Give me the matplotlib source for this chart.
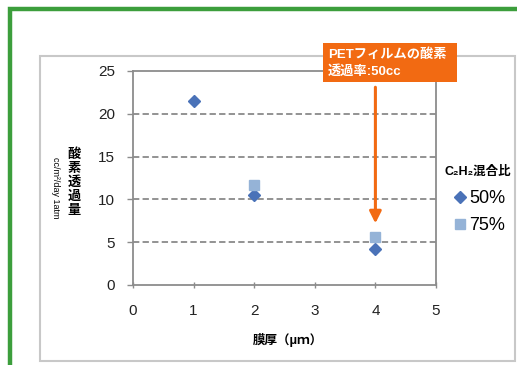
import matplotlib.pyplot as plt
from matplotlib.patches import Rectangle
from matplotlib.lines import Line2D

plt.rcParams['font.family'] = ['Liberation Sans', 'DejaVu Sans', 'Noto Sans CJK JP']

# oxygen permeability vs film thickness
x_50 = [1, 2, 4]
y_50 = [21.5, 10.5, 4.2]
x_75 = [2, 4]
y_75 = [11.7, 5.6]

x_ticks = [0, 1, 2, 3, 4, 5]
y_ticks = [0, 5, 10, 15, 20, 25]
grid_levels = [5, 10, 15, 20]

pet_x = 4
arrow_top = 23.1
arrow_tip = 7.2

W, H = 517, 365
orange = '#F26A12'
axis_gray = '#8C8C8C'

fig = plt.figure(figsize=(W / 100, H / 100), dpi=100)

# outer green frame and gray chart box
fig.patches.append(Rectangle((10 / W, -0.1), 1.2, 1.1 - 9 / H, transform=fig.transFigure,
                             fill=False, ec='#3C9E3C', lw=3.2))
fig.patches.append(Rectangle((40 / W, 1 - 361 / H), (515 - 40) / W, (361 - 56) / H,
                             transform=fig.transFigure, fill=False, ec='#C8C8C8', lw=1.5))

ax = fig.add_axes([133 / W, 80 / H, (436 - 133) / W, 214 / H])
ax.set_xlim(0, 5)
ax.set_ylim(0, 25)
ax.set_xticks(x_ticks)
ax.set_yticks(y_ticks)

for level in grid_levels:
    ax.axhline(level, color='#8A8A8A', lw=1.3, ls=(0, (3.5, 1.8)), zorder=1)

for s in ax.spines.values():
    s.set_color(axis_gray)
    s.set_linewidth(1.3)

ax.tick_params(axis='y', direction='out', length=4, width=1, color=axis_gray,
               labelsize=11, pad=9, labelcolor='#222222')
ax.tick_params(axis='x', direction='inout', length=5, width=1, color=axis_gray,
               labelsize=11, pad=11, labelcolor='#222222')

ax.plot(x_50, y_50, 'D', color='#4A72B8', ms=6.3, zorder=3, label='50%')
ax.plot(x_75, y_75, 's', color='#95B3D7', ms=7.5, zorder=3, label='75%')

# PET reference arrow
ax.annotate('', xy=(pet_x, arrow_tip), xytext=(pet_x, arrow_top),
            arrowprops=dict(arrowstyle='-|>,head_width=0.35,head_length=0.7',
                            color=orange, lw=2.2, shrinkA=0, shrinkB=0),
            zorder=4, annotation_clip=False)

fig.patches.append(Rectangle((323 / W, 1 - 82 / H), 134 / W, 39 / H,
                             transform=fig.transFigure, fc=orange, ec='none', zorder=5))
fig.text(328 / W, 1 - 55 / H, 'PETフィルムの酸素', color='white', fontsize=9.5,
         fontweight='bold', va='center', ha='left', zorder=6)
fig.text(328 / W, 1 - 72 / H, '透過率:50cc', color='white', fontsize=9.5,
         fontweight='bold', va='center', ha='left', zorder=6)

# axis titles (y title stacked one character per row)
for i, ch in enumerate('酸素透過量'):
    fig.text(74 / W, 1 - (155 + 14 * i) / H, ch, fontsize=9.5, fontweight='bold',
             ha='center', va='center')
fig.text(55 / W, 1 - 188 / H, 'cc/m²/day 1atm', fontsize=6.5, rotation=-90,
         ha='center', va='center')
fig.text(288 / W, 1 - 340 / H, '膜厚（μｍ）', fontsize=9, fontweight='bold',
         ha='center', va='center')

# legend
fig.text(478 / W, 1 - 172 / H, 'C₂H₂混合比', fontsize=9, fontweight='bold',
         ha='center', va='center')
handles = [Line2D([], [], ls='none', marker='D', color='#4A72B8', ms=6),
           Line2D([], [], ls='none', marker='s', color='#95B3D7', ms=7.5)]
fig.legend(handles, ['50%', '75%'], loc='upper left', bbox_to_anchor=(455 / W, 1 - 190 / H),
           frameon=False, fontsize=13, handlelength=0.6, handletextpad=0.2,
           labelspacing=0.55, borderpad=0, borderaxespad=0)

fig.savefig('out.png', dpi=100)
